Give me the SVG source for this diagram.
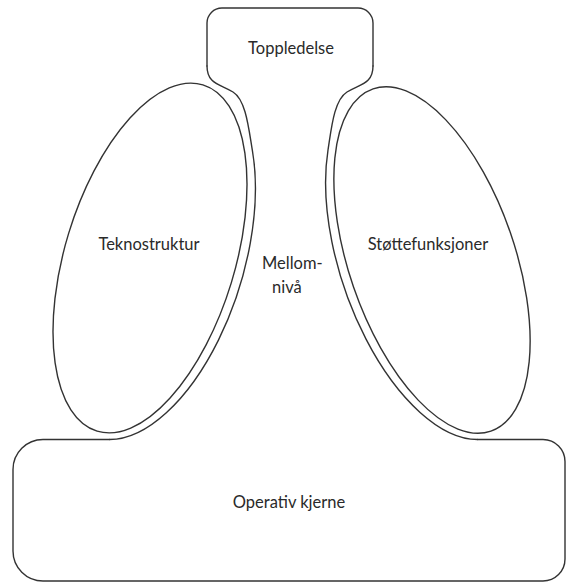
<svg xmlns="http://www.w3.org/2000/svg" width="566" height="583" viewBox="0 0 566 583">
  <style>
    .line { fill: none; stroke: #333333; stroke-width: 1.4; stroke-linecap: round; stroke-linejoin: round; }
    .lbl { font-family: Lato, "Open Sans", "Liberation Sans", sans-serif; font-size: 16.5px; fill: #2a2a2a; }
    .mid { text-anchor: middle; }
  </style>
  <rect width="566" height="583" fill="#ffffff"/>
  <g id="toppledelse">
    <path class="line" d="M207,66 V23 A15 15 0 0 1 222,8 H358 A15 15 0 0 1 373,23 V66"/>
    <text class="lbl mid" x="291" y="54">Toppledelse</text>
  </g>
  <g id="mellomniva">
    <path class="line" d="M207,66 C207,84 220,84 233,92 C246,100 248.7,128.9 252.4,150.6 A94 187.5 17 0 1 109.4,439.5"/>
    <path class="line" d="M373,66 C373,84 360,84 347,92 C334,100 331.4,128.3 328,150 A92 187.5 -19 0 0 477.7,439.5"/>
    <text class="lbl" x="262" y="269">Mellom-</text>
    <text class="lbl" x="272" y="293">nivå</text>
  </g>
  <g id="teknostruktur">
    <ellipse class="line" cx="150" cy="258" rx="85" ry="181" transform="rotate(17 150 258)"/>
    <text class="lbl mid" x="149" y="250">Teknostruktur</text>
  </g>
  <g id="stottefunksjoner">
    <ellipse class="line" cx="432" cy="260" rx="83" ry="181" transform="rotate(-19 432 260)"/>
    <text class="lbl mid" x="428" y="250">Støttefunksjoner</text>
  </g>
  <g id="operativ-kjerne">
    <path class="line" d="M477.7,439.5 H543 A22 22 0 0 1 565,461.5 V559 A22 22 0 0 1 543,581 H43 A30 30 0 0 1 13,551 V469.5 A30 30 0 0 1 43,439.5 H109.4"/>
    <text class="lbl mid" x="289" y="508">Operativ kjerne</text>
  </g>
  <g id="connectors"/>
</svg>
